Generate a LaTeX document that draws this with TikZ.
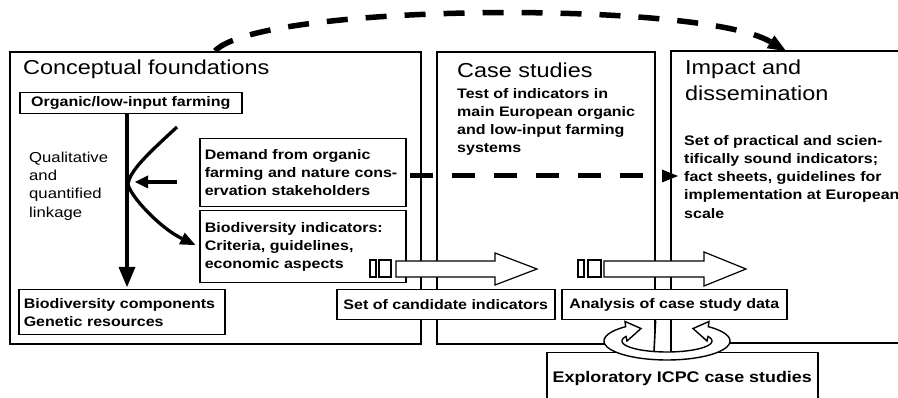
\documentclass[tikz,border=0pt]{standalone}
\usepackage{fontspec}
\setmainfont{Liberation Sans}[FakeStretch=1.16]
\usetikzlibrary{arrows.meta}
\newcommand\fHead{\fontsize{20.2}{26}\selectfont}
\newcommand\fBody{\fontsize{13.8}{18.3}\selectfont\bfseries}
\newcommand\fPlain{\fontsize{14.4}{18.3}\selectfont}
\newcommand\fBig{\fontsize{15.4}{19}\selectfont\bfseries}
\begin{document}
\begin{tikzpicture}[x=1pt,y=-1pt,
  frame/.style={draw, line width=1.6pt, inner sep=0pt, anchor=north west},
  box/.style={draw, fill=white, line width=1.5pt, inner sep=0pt, anchor=north west, font=\fBody},
  txt/.style={inner sep=0pt, anchor=north west, align=left},
  bigarrow/.style={line width=4.5pt, -{Triangle[length=20pt,width=17pt,line width=0pt]}},
  dsh/.style={line width=5pt, dash pattern=on 23pt off 19pt},
  blk/.style={draw, fill=white, line width=1.2pt, line join=miter},
  ringfill/.style={fill=white},
  ringline/.style={draw, line width=1.4pt, line join=miter}]
\useasboundingbox (0,0) rectangle (898,398);
\clip (0,0) rectangle (898,398);
\fill[white] (0,0) rectangle (898,398);

% main frames
\node[frame, minimum width=411, minimum height=292] (cf) at (9,51) {};
\node[frame, minimum width=218, minimum height=292] (cs) at (436,51) {};
\draw[line width=1.6pt] (905,51) -- (671,51) coordinate (ipnw) -- (671,343) -- (905,343);

% headings and texts
\node[txt, font=\fHead] (cft) at (23,59.6) {Conceptual foundations};
\node[txt, font=\fHead] (cst) at (457,62.6) {Case studies};
\node[txt, font=\fBody] (csb) at (457,87.9) {Test of indicators in\\main European organic\\and low-input farming\\systems};
\node[txt, font=\fHead] (ipt) at (685,59.6) {Impact and\\dissemination};
\node[txt, font=\fBody] (ipb) at (684,134.9) {Set of practical and scien-\\tifically sound indicators;\\fact sheets, guidelines for\\implementation at European\\scale};
\node[txt, font=\fPlain] (ql) at (29,151.6) {Qualitative\\and\\quantified\\linkage};

% boxes in conceptual foundations
\node[box, minimum width=222, minimum height=21, align=center] (org) at (19,92) {Organic/low-input farming};
\node[box, minimum width=206, minimum height=68, text width=196, align=left] (dem) at (199,138) {Demand from organic\\farming and nature cons-\\ervation stakeholders};
\node[box, minimum width=206, minimum height=72, text width=196, align=left] (bi) at (199,210) {Biodiversity indicators:\\Criteria, guidelines,\\economic aspects};
\node[box, minimum width=206, minimum height=45, text width=196, align=left] (bc) at (18,289) {Biodiversity components\\Genetic resources};

% arrows in conceptual foundations
\coordinate (v) at (127,0);
\draw[bigarrow, shorten >=2pt] (org.south -| v) -- (bc.north -| v);
\coordinate (cstart) at (177,127);
\coordinate (cvert) at (128,184);
\draw[line width=3.3pt, -{Triangle[length=15pt,width=13pt,line width=0pt]}, shorten >=4pt]
  (cstart) .. controls (150,152) and (130,170) .. (cvert)
  .. controls (130,196) and (160,228) .. (bi.west);
\coordinate (hstart) at (177,182);
\coordinate (hend) at (135,182);
\draw[line width=4.5pt, -{Triangle[length=13pt,width=13pt,line width=0pt]}] (hstart) -- (hend);

% dashed arrows
\coordinate (d1) at (410,176);
\coordinate (d2) at (678,176);
\draw[dsh, -{Triangle[length=16pt,width=13pt,line width=0pt]}] (d1) -- (d2);
\coordinate (c1) at (215,51);
\coordinate (c2) at (786,51);
\draw[line width=5.5pt, dash pattern=on 21pt off 18pt, -{Triangle[length=18pt,width=15pt,line width=0pt]}]
  (c1) .. controls (260,3) and (700,0) .. (c2);

% block arrows
\draw[blk] (370,260) rectangle (376,277);
\draw[blk] (379,260) rectangle (391,277);
\draw[blk] (396,261) -- (495,261) -- (495,253) -- (537,269) -- (495,285) -- (495,277) -- (396,277) -- cycle;
\draw[blk] (578,260) rectangle (584,277);
\draw[blk] (588,260) rectangle (601,277);
\draw[blk] (604,261) -- (704,261) -- (704,252) -- (746,269) -- (704,286) -- (704,277) -- (604,277) -- cycle;

% result boxes
\node[box, minimum width=218, minimum height=30, align=center] (sc) at (336,289) {Set of candidate indicators};
\node[box, minimum width=225, minimum height=30, align=center] (an) at (561,289) {Analysis of case study data};
\node[box, minimum width=271, minimum height=52, align=center, font=\fBig] (ex) at (546,352) {Exploratory ICPC case studies};

% circular arrows
\fill[white] (667,341) ellipse [x radius=45, y radius=11];
\fill[ringfill] plot[domain=90:204.4, samples=30] ({667+45*cos(\x)}, {341+11*sin(\x)})
  -- (627,341) -- (641,328.5) -- (625,321.5)
  -- plot[domain=229:90, samples=30] ({667+63*cos(\x)}, {341+19*sin(\x)}) -- cycle;
\fill[ringfill] plot[domain=90:-24.4, samples=30] ({667+45*cos(\x)}, {341+11*sin(\x)})
  -- (707,341) -- (693,328.5) -- (709,321.5)
  -- plot[domain=-49:90, samples=30] ({667+63*cos(\x)}, {341+19*sin(\x)}) -- cycle;
\draw[line width=1.6pt] (cs.south east |- an.south) -- (654,352);
\draw[line width=1.6pt] (ipnw |- an.south) -- (671,352);
\draw[ringline] plot[domain=90:204.4, samples=30] ({667+45*cos(\x)}, {341+11*sin(\x)})
  -- (627,341) -- (641,328.5) -- (625,321.5)
  -- plot[domain=229:90, samples=30] ({667+63*cos(\x)}, {341+19*sin(\x)});
\draw[ringline] plot[domain=90:-24.4, samples=30] ({667+45*cos(\x)}, {341+11*sin(\x)})
  -- (707,341) -- (693,328.5) -- (709,321.5)
  -- plot[domain=-49:90, samples=30] ({667+63*cos(\x)}, {341+19*sin(\x)});
\end{tikzpicture}
\end{document}
